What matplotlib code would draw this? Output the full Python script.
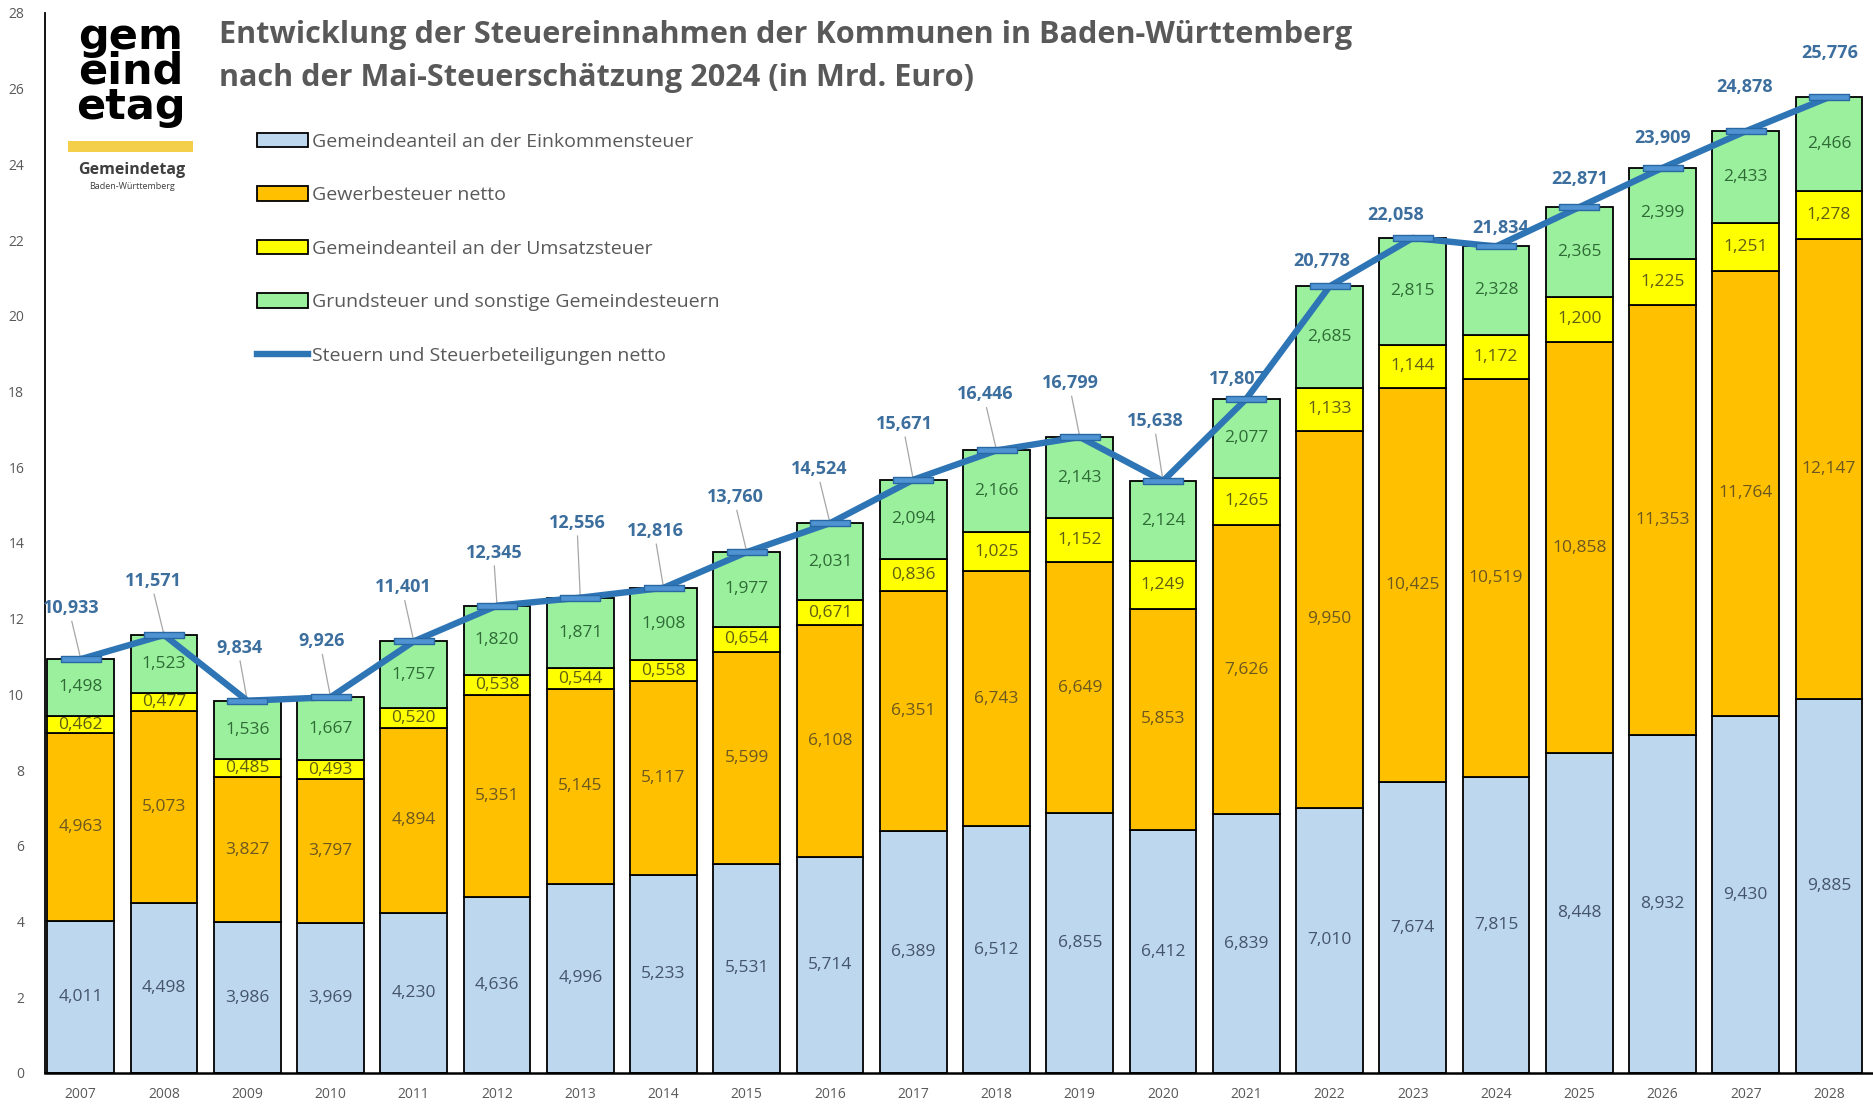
import matplotlib
matplotlib.use('Agg')
import matplotlib.pyplot as plt
import numpy as np
from matplotlib.path import Path
from matplotlib.lines import Line2D
from matplotlib.patches import Patch, Rectangle

# ---------------- data ----------------
years = [str(y) for y in range(2007, 2029)]
einkommen = [4.011, 4.498, 3.986, 3.969, 4.230, 4.636, 4.996, 5.233, 5.531, 5.714, 6.389,
             6.512, 6.855, 6.412, 6.839, 7.010, 7.674, 7.815, 8.448, 8.932, 9.430, 9.885]
gewerbe = [4.963, 5.073, 3.827, 3.797, 4.894, 5.351, 5.145, 5.117, 5.599, 6.108, 6.351,
           6.743, 6.649, 5.853, 7.626, 9.950, 10.425, 10.519, 10.858, 11.353, 11.764, 12.147]
umsatz = [0.462, 0.477, 0.485, 0.493, 0.520, 0.538, 0.544, 0.558, 0.654, 0.671, 0.836,
          1.025, 1.152, 1.249, 1.265, 1.133, 1.144, 1.172, 1.200, 1.225, 1.251, 1.278]
grund = [1.498, 1.523, 1.536, 1.667, 1.757, 1.820, 1.871, 1.908, 1.977, 2.031, 2.094,
         2.166, 2.143, 2.124, 2.077, 2.685, 2.815, 2.328, 2.365, 2.399, 2.433, 2.466]
gesamt = [10.933, 11.571, 9.834, 9.926, 11.401, 12.345, 12.556, 12.816, 13.760, 14.524, 15.671,
          16.446, 16.799, 15.638, 17.807, 20.778, 22.058, 21.834, 22.871, 23.909, 24.878, 25.776]

series_names = ["Gemeindeanteil an der Einkommensteuer", "Gewerbesteuer netto",
                "Gemeindeanteil an der Umsatzsteuer", "Grundsteuer und sonstige Gemeindesteuern"]
line_name = "Steuern und Steuerbeteiligungen netto"
title_lines = ["Entwicklung der Steuereinnahmen der Kommunen in Baden-Württemberg",
               "nach der Mai-Steuerschätzung 2024 (in Mrd. Euro)"]

# ---------------- styles ----------------
bar_colors = ['#BDD7EE', '#FFC000', '#FFFF00', '#9AF09C']
label_colors = ['#44546A', '#6B5720', '#5E5E14', '#2F6B36']
line_color = '#2E75B6'
total_label_color = '#3C6E9E'
# offsets (pixels) of the total labels relative to their points
total_offsets = [(-10, 51), (-11, 54), (-8, 53), (-9, 56), (-10, 54), (-3, 53), (-3, 75),
                 (-8, 57), (-11, 55), (-11, 54), (-9, 56), (-11, 56), (-9, 54), (-8, 60),
                 (-9, 20), (-8, 25), (-17, 23), (5, 18), (0, 28), (0, 30), (-1, 44), (1, 44)]
FONT = 'Open Sans'
GRAY = '#595959'

def fmt(v):
    return f"{v:.3f}".replace('.', ',')

W, H = 1874, 1105
fig = plt.figure(figsize=(W / 100, H / 100), dpi=100)
ax = fig.add_axes([45 / W, 1 - 1073 / H, (W - 45) / W, (1073 - 13) / H])

x = np.arange(len(years))
bottom = np.zeros(len(years))
for vals, col, tcol, name in zip([einkommen, gewerbe, umsatz, grund], bar_colors, label_colors, series_names):
    vals = np.array(vals)
    ax.bar(x, vals, 0.8, bottom=bottom, color=col, edgecolor='black', linewidth=1.3, zorder=2, label=name)
    for xi, v, b in zip(x, vals, bottom):
        ax.text(xi, b + v / 2, fmt(v), ha='center', va='center', color=tcol,
                fontsize=12.5, family=FONT, zorder=3)
    bottom = bottom + vals

# total line
ax.plot(x, gesamt, color=line_color, lw=4.6, zorder=6, solid_joinstyle='round', solid_capstyle='round')
rect = Path([(-1, -0.15), (1, -0.15), (1, 0.15), (-1, 0.15), (-1, -0.15)],
            [Path.MOVETO, Path.LINETO, Path.LINETO, Path.LINETO, Path.CLOSEPOLY])
ax.plot(x, gesamt, ls='none', marker=rect, ms=29, mfc='#4F93D2', mec='#2A68A3', mew=1.0, zorder=7)

for xi, v, (dx, dy) in zip(x, gesamt, total_offsets):
    kw = {}
    if dy >= 48:
        kw['arrowprops'] = dict(arrowstyle='-', color='#A6A6A6', lw=0.9, shrinkA=1, shrinkB=0,
                                relpos=(0.5, 0.0))
    ax.annotate(fmt(v), xy=(xi, v), xytext=(dx, dy), textcoords='offset pixels',
                ha='center', va='center', fontsize=13, fontweight='bold', family=FONT,
                color=total_label_color, zorder=5, **kw)

ax.set_xlim(-0.43, len(years) - 1 + 0.54)
ax.set_ylim(0, 28)
ax.set_yticks(range(0, 29, 2))
ax.set_xticks(x)
ax.set_xticklabels(years)
ax.tick_params(axis='y', length=0, pad=15, labelsize=10, labelcolor=GRAY)
ax.tick_params(axis='x', length=0, pad=10, labelsize=10, labelcolor=GRAY)
for lab in ax.get_xticklabels() + ax.get_yticklabels():
    lab.set_family(FONT)
for s in ['top', 'right']:
    ax.spines[s].set_visible(False)
ax.spines['left'].set_linewidth(1.3)
ax.spines['bottom'].set_linewidth(1.8)
ax.set_facecolor('none')

# legend
handles = [Patch(facecolor=c, edgecolor='black', linewidth=1.3) for c in bar_colors]
handles.append(Line2D([0], [0], color=line_color, lw=4.6))
leg = ax.legend(handles, series_names + [line_name], loc='upper left',
                bbox_to_anchor=(257 / W, 1 - 133 / H), bbox_transform=fig.transFigure,
                frameon=False, prop={'family': FONT, 'size': 14}, labelcolor=GRAY,
                handlelength=2.6, handleheight=0.75, handletextpad=0.25, labelspacing=1.82,
                borderaxespad=0, borderpad=0)

# title
t1 = fig.text(219 / W, 1 - 35 / H, title_lines[0], ha='left', va='center', fontsize=22,
              fontweight='bold', color=GRAY, family=FONT)
t2 = fig.text(219 / W, 1 - 78 / H, title_lines[1], ha='left', va='center', fontsize=22,
              fontweight='bold', color=GRAY, family=FONT)
fig.canvas.draw()
w = t1.get_window_extent().width
fs = 22 * 1131 / w
t1.set_fontsize(fs)
t2.set_fontsize(fs)

# logo
lax = fig.add_axes([68 / W, 1 - 134 / H, 125 / W, 124 / H])
lax.set_xlim(0, 1)
lax.set_ylim(0, 1)
lax.axis('off')
lax.text(0.5, 0.5, 'gem\neind\netag', ha='center', va='center', fontsize=31, fontweight='heavy',
         color='black', family='DejaVu Sans', linespacing=0.78, clip_on=True)
fig.patches.append(Rectangle((68 / W, 1 - 152 / H), 125 / W, 11 / H, transform=fig.transFigure,
                             facecolor='#F3CF4A', edgecolor='none'))
fig.text(132 / W, 1 - 170 / H, 'Gemeindetag', ha='center', va='center', fontsize=11.5,
         fontweight='bold', color='#3F3F3F', family=FONT)
fig.text(132 / W, 1 - 186 / H, 'Baden-Württemberg', ha='center', va='center', fontsize=6.5,
         color='#3F3F3F', family=FONT)

fig.savefig('out.png', dpi=100, facecolor='white')
